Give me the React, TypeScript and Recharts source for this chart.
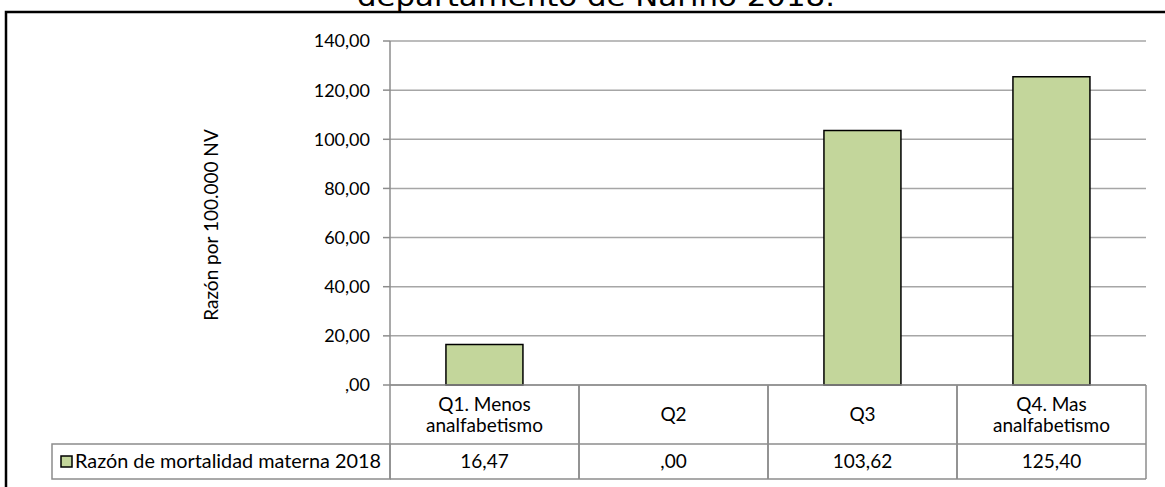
import { BarChart, Bar, XAxis, YAxis, CartesianGrid } from "recharts";

const categories = ["Q1. Menos\nanalfabetismo", "Q2", "Q3", "Q4. Mas\nanalfabetismo"];
const values = [16.47, 0, 103.62, 125.4];
const yTicks = [0, 20, 40, 60, 80, 100, 120, 140];
const seriesName = "Razón de mortalidad materna 2018";
const yTitle = "Razón por 100.000 NV";
const chartTitle = "departamento de Nariño 2018.";

const FONT = "Lato, 'Open Sans', sans-serif";
const GREEN = "#c3d69b";
const TABLE_LINE = "#8c8c8c";
const LEGEND_W = 338;
const HEAD_H = 59;
const ROW_H = 35;

const data = categories.map((c, i) => ({ name: c, value: values[i] }));

// 0 shows up as ",00" like the excel table
const fmt = (v: number) => v.toFixed(2).replace(".", ",").replace(/^0,/, ",");

function TableTick(props: any) {
  const { x, y, payload, index } = props;
  const band = (props.width ?? 756) / (props.visibleTicksCount ?? 4);
  const left = x - band / 2;
  const right = x + band / 2;
  const lines: string[] = String(payload.value).split("\n");
  const lineH = 21;
  const startY = y + HEAD_H / 2 - ((lines.length - 1) * lineH) / 2;
  return (
    <g>
      <line x1={left} y1={y} x2={left} y2={y + HEAD_H + ROW_H} stroke={TABLE_LINE} strokeWidth={1.5} />
      <line x1={right} y1={y} x2={right} y2={y + HEAD_H + ROW_H} stroke={TABLE_LINE} strokeWidth={1.5} />
      <line x1={left} y1={y + HEAD_H} x2={right} y2={y + HEAD_H} stroke={TABLE_LINE} strokeWidth={1.5} />
      <line x1={left} y1={y + HEAD_H + ROW_H} x2={right} y2={y + HEAD_H + ROW_H} stroke={TABLE_LINE} strokeWidth={1.5} />
      {lines.map((l, i) => (
        <text key={i} x={x} y={startY + i * lineH} dy="0.36em" textAnchor="middle" fontSize={19} fontFamily={FONT} fill="#000">
          {l}
        </text>
      ))}
      <text x={x} y={y + HEAD_H + ROW_H / 2} dy="0.36em" textAnchor="middle" fontSize={19} fontFamily={FONT} fill="#000">
        {fmt(values[index])}
      </text>
      {index === 0 && (
        <g>
          <rect x={left - LEGEND_W} y={y + HEAD_H} width={LEGEND_W} height={ROW_H} fill="none" stroke={TABLE_LINE} strokeWidth={1.5} />
          <rect x={left - LEGEND_W + 9} y={y + HEAD_H + 12} width={11} height={11} fill={GREEN} stroke="#000" strokeWidth={1.5} />
          <text
            x={left - LEGEND_W + 23}
            y={y + HEAD_H + ROW_H / 2}
            dy="0.36em"
            fontSize={19}
            fontFamily={FONT}
            fill="#000"
            textLength={306}
            lengthAdjust="spacingAndGlyphs"
          >
            {seriesName}
          </text>
        </g>
      )}
    </g>
  );
}

function YTitle(props: any) {
  const { viewBox } = props;
  const cx = viewBox.x + 211;
  const cy = viewBox.y + viewBox.height / 2 + 12;
  return (
    <text x={cx} y={cy} transform={`rotate(-90 ${cx} ${cy})`} textAnchor="middle" dy="0.36em" fontSize={19} fontFamily={FONT} fill="#000">
      {yTitle}
    </text>
  );
}

export default function App() {
  return (
    <div style={{ position: "absolute", left: 0, top: 0, width: 1165, height: 487, background: "#fff" }}>
      <BarChart
        width={1165}
        height={487}
        data={data}
        margin={{ top: 41, right: 19, bottom: 0, left: 0 }}
        barCategoryGap="29.6%"
      >
        <CartesianGrid horizontal vertical={false} stroke="#a6a6a6" strokeWidth={1.5} />
        <YAxis
          width={390}
          domain={[0, 140]}
          ticks={yTicks}
          tickFormatter={fmt}
          tickSize={7}
          tickMargin={13}
          axisLine={{ stroke: TABLE_LINE, strokeWidth: 1.5 }}
          tickLine={{ stroke: TABLE_LINE, strokeWidth: 1.5 }}
          tick={{ fontSize: 18, fontFamily: FONT, fill: "#000" }}
          label={<YTitle />}
        />
        <XAxis
          dataKey="name"
          height={102}
          interval={0}
          tickSize={0}
          tickMargin={0}
          tickLine={false}
          axisLine={{ stroke: TABLE_LINE, strokeWidth: 1.5 }}
          tick={<TableTick />}
        />
        <Bar dataKey="value" name={seriesName} fill={GREEN} stroke="#000" strokeWidth={1.5} isAnimationActive={false} />
      </BarChart>
      <svg width={1165} height={487} style={{ position: "absolute", left: 0, top: 0, pointerEvents: "none" }}>
        <text x={596} y={6} textAnchor="middle" fontSize={26} fontFamily="'DejaVu Sans', sans-serif" fill="#000" textLength={478} lengthAdjust="spacingAndGlyphs">
          {chartTitle}
        </text>
        <path d="M6 487 L6 12 L1165 12" fill="none" stroke="#000" strokeWidth={2.5} />
      </svg>
    </div>
  );
}
